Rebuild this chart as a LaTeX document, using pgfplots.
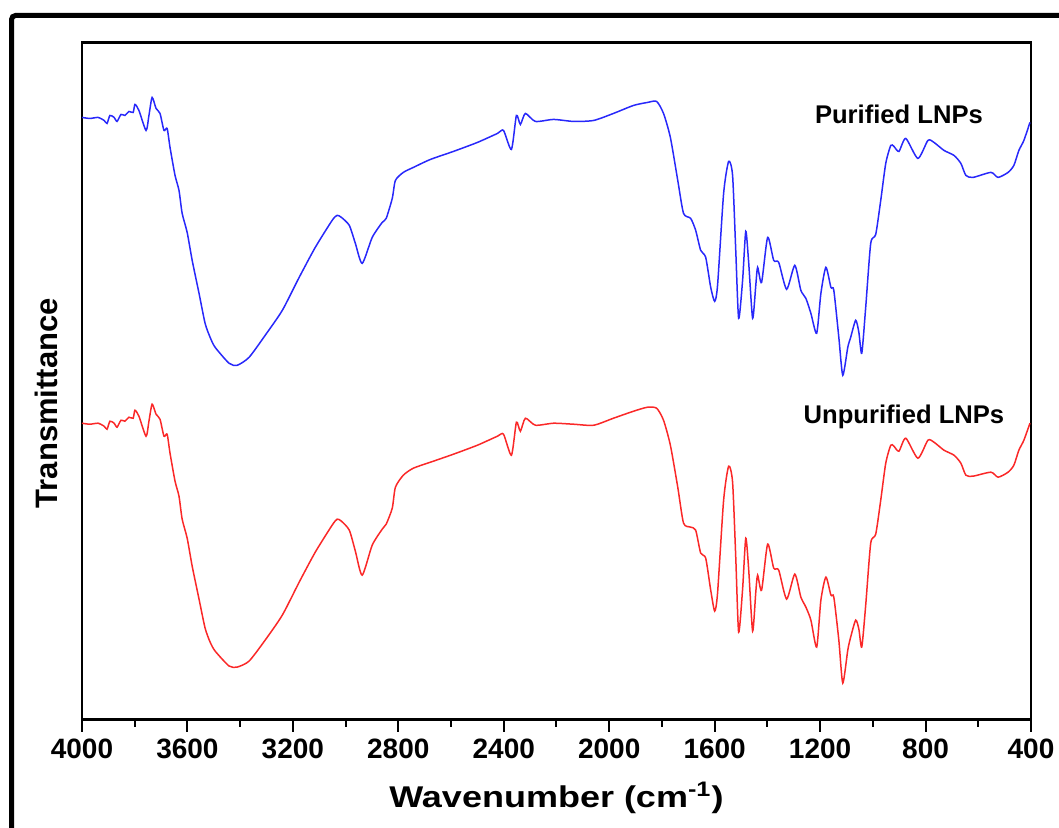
\documentclass[border=0pt]{standalone}
\usepackage{fontspec}
\setmainfont{Liberation Sans}
\usepackage{graphicx}
\usepackage{pgfplots}
\pgfplotsset{compat=1.18}
\definecolor{specblue}{RGB}{40,40,250}
\definecolor{specred}{RGB}{250,40,40}

\begin{document}
\begin{tikzpicture}
\useasboundingbox (0,0) rectangle (529.5pt,413.5pt);
% outer frame, cut off at right and bottom
\draw[line width=2.5pt, rounded corners=2pt] (5.75pt,-20pt) -- (5.75pt,405.75pt) -- (570pt,405.75pt);
\begin{axis}[
    at={(41pt,53.75pt)}, anchor=south west,
    scale only axis, width=474.5pt, height=338.5pt,
    x dir=reverse,
    xmin=400, xmax=4000, ymin=-2.5, ymax=675,
    xtick={400,800,...,4000},
    minor x tick num=1,
    ytick=\empty,
    xtick pos=left,
    tick align=outside,
    major tick length=6pt, minor tick length=3.5pt,
    every tick/.style={black, line width=1pt},
    axis line style={line width=1.3pt},
    /pgf/number format/.cd, 1000 sep={}, assume math mode=true,
    /pgfplots/.cd,
    ticklabel style={font=\fontsize{14}{14}\selectfont\bfseries},
    xticklabel style={anchor=base, yshift=-13.5pt},
    xlabel={\scalebox{1.2}[1]{Wavenumber (cm\textsuperscript{-1})}},
    xlabel style={font=\fontsize{15}{15}\selectfont\bfseries, at={(axis description cs:0.5,0)}, anchor=base, yshift=-43.75pt},
    ylabel={Transmittance},
    ylabel style={font=\fontsize{15.5}{15.5}\selectfont\bfseries, at={(axis description cs:-0.038,0.467)}, anchor=center, rotate=0},
    clip=false,
]
% Purified LNPs
\addplot[specblue, line width=0.75pt, smooth, tension=0.4] coordinates {
(4000,600) (3970,599) (3939,600) (3916,597) (3905,594) (3894,602) (3878,600) (3867,596)
(3852,603) (3837,602) (3822,606) (3806,605) (3799,613) (3784,607) (3757,587) (3746,602)
(3734,620) (3719,609) (3704,604) (3689,587) (3677,589) (3666,570) (3647,542) (3632,527)
(3620,504) (3601,485) (3582,457) (3556,424) (3533,394) (3514,380) (3495,370) (3442,354) (3411,352)
(3366,360) (3305,382) (3240,407) (3176,440) (3115,470) (3051,497) (3032,502) (3016,500) (2986,492)
(2963,474) (2937,454) (2899,480) (2861,495) (2846,499) (2823,519) (2811,537) (2781,545)
(2743,550) (2678,558) (2591,566) (2500,575) (2424,584) (2401,587) (2371,568) (2352,602)
(2337,593) (2318,604) (2280,596) (2211,598) (2135,596) (2059,597) (1984,604) (1908,612)
(1855,615) (1820,616) (1794,604) (1768,580) (1740,537) (1718,504) (1691,499) (1672,487)
(1653,467) (1634,460) (1615,430) (1600,416) (1589,432) (1566,524) (1547,556) (1532,542)
(1520,467) (1509,399) (1494,437) (1482,486) (1471,455) (1456,399) (1444,432) (1437,450)
(1422,435) (1399,480) (1376,457) (1357,455) (1327,428) (1296,452) (1273,427) (1254,419)
(1235,404) (1213,384) (1197,424) (1178,450) (1159,430) (1148,427) (1129,380) (1114,342)
(1095,370) (1084,380) (1065,397) (1053,385) (1042,364) (1027,410) (1008,474) (989,483)
(970,517) (951,554) (932,572) (920,571) (901,566) (875,579) (829,559) (791,577)
(768,575) (730,567) (692,562) (666,554) (647,542) (620,540) (552,545) (525,540)
(487,545) (465,552) (446,567) (427,577) (404,595)
};
% Unpurified LNPs
\addplot[specred, line width=0.75pt, smooth, tension=0.4] coordinates {
(4000,294) (3970,293) (3939,294) (3916,291) (3905,288) (3894,296) (3878,294) (3867,290)
(3852,297) (3837,296) (3822,300) (3806,299) (3799,307) (3784,301) (3757,281) (3746,296)
(3734,313) (3719,303) (3704,298) (3689,281) (3677,283) (3666,264) (3647,236) (3632,221)
(3620,198) (3601,179) (3582,151) (3556,118) (3533,89) (3514,75) (3495,66) (3442,51) (3411,50)
(3366,56) (3305,77) (3240,102) (3176,135) (3115,165) (3051,192) (3032,198) (3016,196) (2986,187)
(2963,166) (2937,142) (2899,172) (2861,188) (2846,193) (2823,209) (2811,230) (2781,242)
(2743,249) (2678,255) (2591,263) (2500,272) (2424,281) (2401,283) (2371,262) (2352,295)
(2337,286) (2318,299) (2280,292) (2211,294) (2135,293) (2059,292) (1984,299) (1908,306)
(1855,310) (1820,309) (1794,297) (1768,272) (1740,230) (1718,194) (1691,190) (1672,187)
(1653,164) (1634,159) (1615,127) (1600,106) (1589,124) (1566,217) (1547,251) (1532,235)
(1520,160) (1509,85) (1494,128) (1482,179) (1471,148) (1456,86) (1444,125) (1437,142)
(1422,127) (1399,173) (1376,149) (1357,147) (1327,118) (1296,143) (1273,120) (1254,110)
(1235,97) (1213,70) (1197,117) (1178,140) (1159,122) (1148,120) (1129,77) (1114,34)
(1095,67) (1084,80) (1065,97) (1053,88) (1042,70) (1027,112) (1008,174) (989,183)
(970,217) (951,254) (932,272) (920,271) (901,266) (875,279) (829,259) (791,277)
(768,275) (730,267) (692,262) (666,254) (647,242) (620,241) (552,245) (525,240)
(487,245) (465,252) (446,267) (427,277) (404,294)
};
\node[font=\fontsize{12.8}{12.8}\selectfont\bfseries, anchor=base] at (axis cs:901,594) {Purified LNPs};
\node[font=\fontsize{12.8}{12.8}\selectfont\bfseries, anchor=base] at (axis cs:882,294) {Unpurified LNPs};
\end{axis}
\end{tikzpicture}
\end{document}
